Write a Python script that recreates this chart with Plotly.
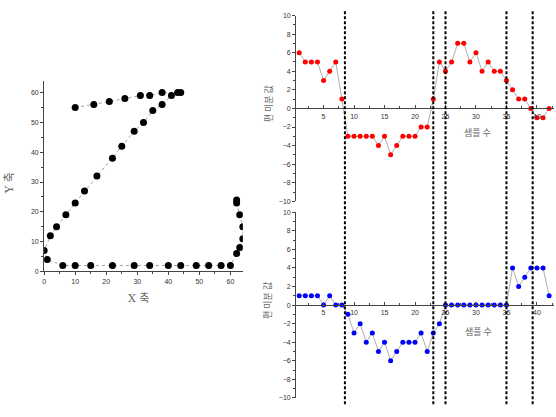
import plotly.graph_objects as go

# Left panel: trajectory
traj_x = [10, 16, 21, 26, 31, 34, 38, 43, 44, 41, 38, 35, 32, 29, 25, 22, 17, 13, 10, 7, 4, 2, 0, 1,
          6, 10, 15, 22, 29, 34, 40, 44, 49, 53, 57, 60, 62, 63, 64, 64, 63, 62, 62]
traj_y = [55, 56, 57, 58, 59, 59, 60, 60, 60, 59, 56, 54, 50, 47, 42, 38, 32, 27, 23, 19, 15, 12, 7, 4,
          2, 2, 2, 2, 2, 2, 2, 2, 2, 2, 2, 2, 6, 8, 11, 15, 19, 23, 24]

# Right panels: derivative values per sample
samples = list(range(1, 43))
dx_vals = [6, 5, 5, 5, 3, 4, 5, 1, -3, -3, -3, -3, -3, -4, -3, -5, -4, -3, -3, -3, -2, -2,
           1, 5, 4, 5, 7, 7, 5, 6, 4, 5, 4, 4, 3, 2, 1, 1, 0, -1, -1, 0]
dy_vals = [1, 1, 1, 1, 0, 1, 0, 0, -1, -3, -2, -4, -3, -5, -4, -6, -5, -4, -4, -4, -3, -5,
           -3, -2, 0, 0, 0, 0, 0, 0, 0, 0, 0, 0, 0, 4, 2, 3, 4, 4, 4, 1]
split_points = [8.5, 23, 25, 35, 39.3]

left_xlabel = "X 축"
left_ylabel = "Y 축"
right_xlabel = "샘플 수"
top_ylabel = "편 미분 값"
bottom_ylabel = "편 미분 값"

W, H = 556, 417
fig = go.Figure()

fig.add_trace(go.Scatter(
    x=traj_x, y=traj_y, mode="lines+markers", xaxis="x", yaxis="y",
    line=dict(color="#8a8a8a", width=0.8, dash="dot"),
    marker=dict(color="black", size=7, symbol="circle"),
    showlegend=False, cliponaxis=True))

fig.add_trace(go.Scatter(
    x=samples, y=dx_vals, mode="lines+markers", xaxis="x2", yaxis="y2",
    line=dict(color="#9a9a9a", width=0.8),
    marker=dict(color="#ff0000", size=5, symbol="circle"),
    showlegend=False))

fig.add_trace(go.Scatter(
    x=samples, y=dy_vals, mode="lines+markers", xaxis="x3", yaxis="y3",
    line=dict(color="#9a9a9a", width=0.8),
    marker=dict(color="#0000ff", size=5, symbol="circle"),
    showlegend=False))

tickfont = dict(family="Liberation Sans, Arial", size=7, color="#333")
axcol = "#444"

def px2paper_y(py):
    return 1 - py / H

right_dom = [295.2 / W, 554 / W]
top_dom = [px2paper_y(200.7), px2paper_y(11.7)]
bot_dom = [px2paper_y(400.7), px2paper_y(211.7)]

common_right_x = dict(range=[0.5, 42.8], domain=right_dom, anchor="free",
                      showline=True, linecolor=axcol, linewidth=1,
                      ticks="inside", ticklen=3, tickcolor=axcol, dtick=5, tick0=0,
                      minor=dict(ticks="inside", ticklen=2, dtick=2.5, tick0=0, tickcolor=axcol),
                      showgrid=False, zeroline=False, tickfont=tickfont, ticklabelstandoff=1)
common_right_y = dict(range=[-10, 10], showline=True, linecolor=axcol, linewidth=1,
                      ticks="outside", ticklen=3, tickcolor=axcol, dtick=2, tick0=0,
                      minor=dict(ticks="outside", ticklen=2, dtick=1, tickcolor=axcol),
                      showgrid=False, zeroline=False, tickfont=tickfont)

fig.update_layout(
    width=W, height=H, margin=dict(l=0, r=0, t=0, b=0),
    paper_bgcolor="white", plot_bgcolor="white",
    xaxis=dict(range=[0, 64], domain=[42.3 / W, 241.7 / W], anchor="y",
               showline=True, linecolor=axcol, linewidth=1,
               ticks="outside", ticklen=3, tickcolor=axcol, dtick=10, tick0=0,
               minor=dict(ticks="outside", ticklen=2, dtick=5, tickcolor=axcol),
               showgrid=False, zeroline=False, tickfont=tickfont),
    yaxis=dict(range=[0, 64], domain=[px2paper_y(272), px2paper_y(78)], anchor="x",
               showline=True, linecolor=axcol, linewidth=1,
               ticks="outside", ticklen=3, tickcolor=axcol, dtick=10, tick0=0,
               minor=dict(ticks="outside", ticklen=2, dtick=5, tickcolor=axcol),
               showgrid=False, zeroline=False, tickfont=tickfont),
    xaxis2=dict(position=px2paper_y(106), **common_right_x),
    yaxis2=dict(domain=top_dom, anchor="x2", **common_right_y),
    xaxis3=dict(position=px2paper_y(306), **common_right_x),
    yaxis3=dict(domain=bot_dom, anchor="x3", **common_right_y),
)

# Dashed vertical split lines across both right panels
for sx in split_points:
    fig.add_shape(type="line", xref="x2", yref="paper", x0=sx, x1=sx,
                  y0=px2paper_y(407), y1=px2paper_y(7),
                  line=dict(color="black", width=2, dash="3px,2px"))

labfont = dict(family="Noto Sans CJK KR", size=9, color="#666")
serif = dict(family="DejaVu Serif, Noto Sans CJK KR", size=11, color="#666")

def ann(text, px, py, font, angle=0):
    fig.add_annotation(text=text, x=px / W, y=px2paper_y(py), xref="paper", yref="paper",
                       xanchor="center", yanchor="middle", showarrow=False,
                       font=font, textangle=angle)

ann(left_xlabel, 137, 300, serif)
ann(left_ylabel, 8, 182, serif, -90)
ann(right_xlabel, 477, 131, labfont)
ann(right_xlabel, 478, 333, labfont)
ann(top_ylabel, 267, 102, labfont, -90)
ann(bottom_ylabel, 267, 302, labfont, -90)

fig.write_html("out.html")
